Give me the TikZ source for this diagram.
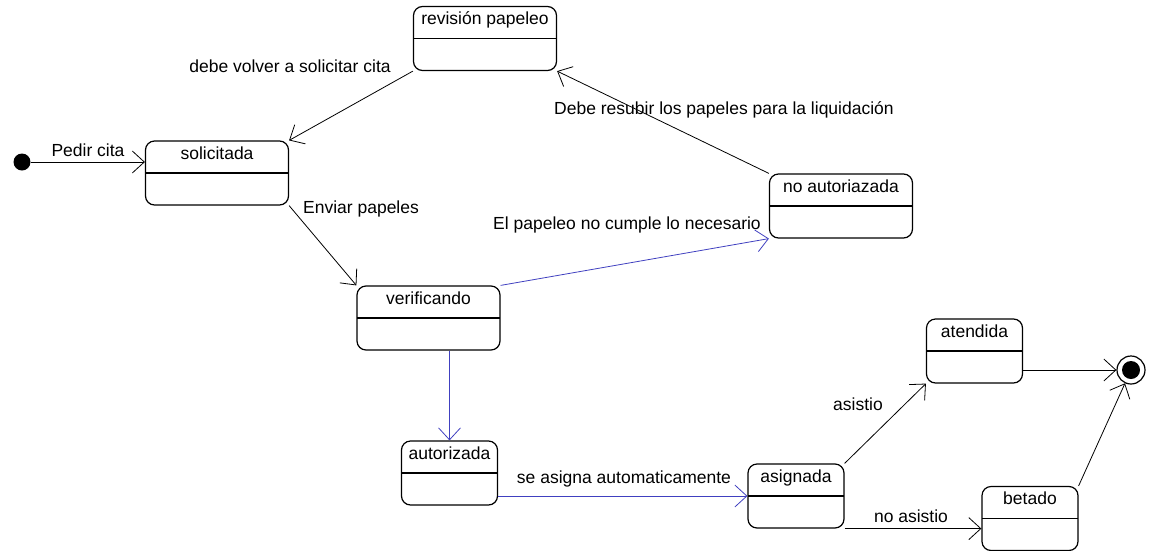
\documentclass[tikz,border=0pt]{standalone}
\usepackage{fontspec}
\setmainfont{Liberation Sans}
\usepackage{xcolor}
\usetikzlibrary{positioning,arrows.meta}
\definecolor{trblue}{RGB}{64,64,192}

\begin{document}
\begin{tikzpicture}[x=1pt,y=-1pt,>={Straight Barb[length=12pt,width=22pt]},every node/.style={font=\fontsize{17.5}{20}\selectfont}]
\tikzstyle{st}=[draw,rounded corners=9pt,fill=white,line width=1.2pt,inner sep=0pt,minimum width=143pt,text height=18pt,text depth=46pt,path picture={\draw[line width=1.2pt] (path picture bounding box.west) -- (path picture bounding box.east);}]
\tikzstyle{sm}=[st,minimum width=96pt]
\tikzstyle{lbl}=[inner sep=0pt]
\tikzstyle{tr}=[->,line width=0.8pt]
\tikzstyle{bl}=[tr,draw=trblue]
\useasboundingbox (0,0) rectangle (1152,550);
% states
\node[circle,fill,minimum size=17pt,inner sep=0pt] (ini) at (22,162) {};
\node[st] (solic) at (217,173) {solicitada};
\node[st] (revis) at (485,38.5) {revisión papeleo};
\node[st] (noaut) at (841,206) {no autoriazada};
\node[st] (verif) at (428.5,318) {verificando};
\node[sm] (autor) at (449.5,473) {autorizada};
\node[sm] (asign) at (796,496) {asignada};
\node[sm] (atend) at (974.5,351) {atendida};
\node[sm] (betado) at (1030,518.5) {betado};
\node[draw,circle,fill=white,line width=1.2pt,minimum size=28pt,inner sep=0pt] (fin) at (1131,370) {};
\node[circle,fill,minimum size=18pt,inner sep=0pt] (fincore) at (fin) {};
% transitions
\draw[tr] (ini) -- (ini -| solic.west);
\draw[tr] (revis.south west) -- (solic.north east);
\draw[tr] (noaut.north west) -- (revis.south east);
\draw[tr] (solic.south east) -- (verif.north west);
\draw[bl] (verif.north east) -- (noaut.south west);
\draw[bl] (autor.north |- verif.south) -- (autor.north);
\draw[bl] (autor.east |- asign) -- (asign.west);
\draw[tr] (asign.north east) -- (atend.south west);
\draw[tr] (asign.south east) -- (asign.south east -| betado.west);
\draw[tr] (atend.east |- fin) -- (fin);
\draw[tr] (betado.north east) -- (fin);
% labels
\node[lbl] (lpedir) at (88,150) {Pedir cita};
\node[lbl] (lvolver) at (290,66) {debe volver a solicitar cita};
\node[lbl] (lresubir) at (724,110) {Debe resubir los papeles para la liquidación};
\node[lbl] (lenviar) at (361,209) {Enviar papeles};
\node[lbl] (lcumple) at (627,225) {El papeleo no cumple lo necesario};
\node[lbl] (lasigna) at (624,479) {se asigna automaticamente};
\node[lbl] (lasistio) at (858,404) {asistio};
\node[lbl] (lnoasis) at (911,516) {no asistio};
\end{tikzpicture}
\end{document}
